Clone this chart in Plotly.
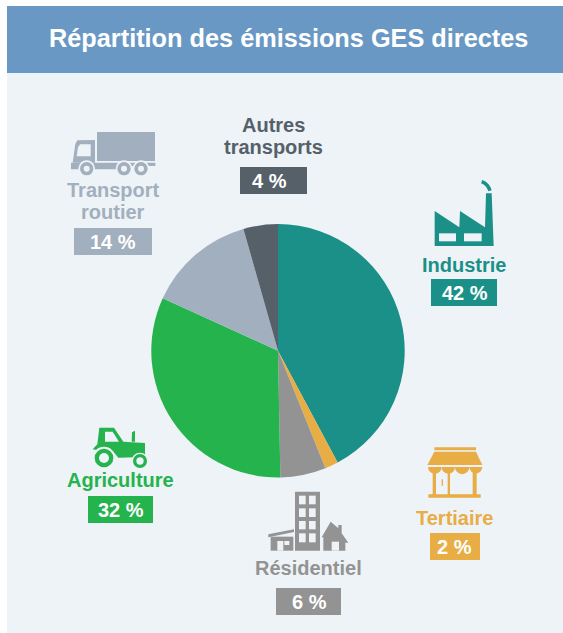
import plotly.graph_objects as go

W, H = 563, 633
title = "Répartition des émissions GES directes"
categories = ["Industrie", "Tertiaire", "Résidentiel", "Agriculture", "Transport routier", "Autres transports"]
label_lines = [["Industrie"], ["Tertiaire"], ["Résidentiel"], ["Agriculture"], ["Transport", "routier"], ["Autres", "transports"]]
values = [42.2, 1.7, 5.8, 32.1, 13.8, 4.4]
value_labels = ["42 %", "2 %", "6 %", "32 %", "14 %", "4 %"]
colors = ["#1b9088", "#e8ad45", "#929392", "#25b34d", "#a2afbe", "#556069"]
BG = "#eef3f7"
BAR = "#6a98c4"
FONT = "Liberation Sans, Arial, sans-serif"

# label layout: label centre x, first-line centre y, box x0,y0,x1,y1, value text x, y
label_layout = [
    (464, 265, 431, 279, 497, 306, 465, 292.5),
    (454, 518, 430, 533, 480, 560, 454.7, 546.5),
    (308, 568, 276, 588, 341, 615, 309, 601.5),
    (120, 480, 88, 496, 153, 523, 120.8, 509.5),
    (113, 190, 74, 228, 152, 255, 112.5, 241.5),
    (273, 125, 240, 167, 307, 194, 269.7, 180.5),
]
LINE_GAP = 21.5

fig = go.Figure()
shapes = []


def rect(x0, y0, x1, y1, c, layer="above"):
    shapes.append(dict(type="rect", xref="x", yref="y", x0=x0, y0=y0, x1=x1, y1=y1,
                       fillcolor=c, line_width=0, layer=layer))


def poly(pts, c, ox, oy):
    d = "M" + " L".join(f"{ox + x / 3:.2f},{oy + y / 3:.2f}" for x, y in pts) + " Z"
    shapes.append(dict(type="path", xref="x", yref="y", path=d, fillcolor=c, line_width=0, layer="above"))


def zrect(x0, y0, x1, y1, c, ox, oy):
    rect(ox + x0 / 3, oy + y0 / 3, ox + x1 / 3, oy + y1 / 3, c)


def circ(cx, cy, r, c, ox, oy):
    shapes.append(dict(type="circle", xref="x", yref="y", x0=ox + (cx - r) / 3, y0=oy + (cy - r) / 3,
                       x1=ox + (cx + r) / 3, y1=oy + (cy + r) / 3, fillcolor=c, line_width=0, layer="above"))


# panels
rect(7, 6, W, H, BG, layer="below")
rect(7, 6, W, 73, BAR, layer="below")

# truck
ox, oy, c = 50, 100, colors[4]
zrect(141, 96, 315, 183, c, ox, oy)
poly([(68, 188), (76, 132), (82, 121), (135, 120), (135, 188)], c, ox, oy)
poly([(90, 133), (122, 133), (122, 169), (80, 169), (84, 142)], BG, ox, oy)
zrect(63, 188, 316, 198, c, ox, oy)
zrect(63, 198, 200, 208, c, ox, oy)
for wx in (110, 222, 273):
    circ(wx, 206, 25, BG, ox, oy)
    circ(wx, 206, 20, c, ox, oy)
    circ(wx, 206, 9, BG, ox, oy)

# factory
ox, oy, c = 400, 170, colors[0]
poly([(104, 123), (178, 172), (180, 123), (255, 172), (258, 70), (275, 70), (281, 228), (104, 228)], c, ox, oy)
zrect(117, 190, 168, 214, BG, ox, oy)
zrect(192, 190, 245, 214, BG, ox, oy)
shapes.append(dict(type="path", xref="x", yref="y", layer="above",
                   path=f"M{ox + 245 / 3:.2f},{oy + 35 / 3:.2f} Q{ox + 264 / 3:.2f},{oy + 42 / 3:.2f} {ox + 270 / 3:.2f},{oy + 62 / 3:.2f}",
                   line=dict(color=c, width=3.5)))

# shop
ox, oy, c = 400, 435, colors[1]
zrect(98, 105, 108, 180, c, ox, oy)
zrect(143, 105, 150, 180, c, ox, oy)
zrect(218, 105, 230, 180, c, ox, oy)
for x0, x1 in ((84, 125), (125, 165), (165, 208), (208, 247)):
    circ((x0 + x1) / 2, 96, (x1 - x0) / 2, c, ox, oy)
zrect(78, 90, 250, 96, BG, ox, oy)
zrect(78, 50, 250, 72, BG, ox, oy)
zrect(103, 37, 228, 46, c, ox, oy)
poly([(103, 50), (228, 50), (247, 90), (82, 90)], c, ox, oy)
zrect(85, 178, 242, 188, c, ox, oy)
zrect(125, 133, 129, 152, c, ox, oy)

# tractor
ox, oy, c = 50, 415, colors[3]
poly([(148, 38), (192, 38), (220, 80), (285, 84), (285, 126), (205, 128), (190, 110), (140, 105), (128, 103),
      (142, 88)], c, ox, oy)
poly([(165, 50), (188, 50), (207, 80), (165, 80)], BG, ox, oy)
poly([(245, 80), (246, 52), (255, 47), (255, 80)], c, ox, oy)
circ(162, 129, 34, BG, ox, oy)
circ(162, 129, 28, c, ox, oy)
circ(162, 129, 15, BG, ox, oy)
circ(270, 138, 25, BG, ox, oy)
circ(270, 138, 21, c, ox, oy)
circ(270, 138, 11, BG, ox, oy)

# buildings
ox, oy, c = 240, 480, colors[2]
zrect(165, 35, 240, 212, c, ox, oy)
for y0, y1 in ((47, 73), (85, 111), (123, 148), (160, 187)):
    zrect(177, y0, 197, y1, BG, ox, oy)
    zrect(207, y0, 227, y1, BG, ox, oy)
poly([(85, 163), (162, 148), (162, 156), (85, 172)], c, ox, oy)
zrect(92, 170, 160, 212, c, ox, oy)
zrect(112, 183, 130, 212, BG, ox, oy)
zrect(133, 183, 148, 195, BG, ox, oy)
poly([(245, 172), (272, 125), (295, 145), (295, 135), (305, 135), (305, 160), (325, 188), (316, 188), (316, 212),
      (250, 212), (250, 172)], c, ox, oy)
zrect(275, 185, 297, 212, BG, ox, oy)

# labels and value boxes
annotations = [dict(x=288, y=38, text=f"<b>{title}</b>", showarrow=False, xref="x", yref="y",
                    font=dict(family=FONT, size=25.3, color="white"))]
for lines, vl, col, lay in zip(label_lines, value_labels, colors, label_layout):
    lx, ly, bx0, by0, bx1, by1, vx, vy = lay
    rect(bx0, by0, bx1, by1, col)
    for i, line in enumerate(lines):
        annotations.append(dict(x=lx, y=ly + i * LINE_GAP, text=f"<b>{line}</b>", showarrow=False, xref="x", yref="y",
                                font=dict(family=FONT, size=20, color=col)))
    annotations.append(dict(x=vx, y=vy, text=f"<b>{vl}</b>", showarrow=False, xref="x", yref="y",
                            font=dict(family=FONT, size=20, color="white")))

# invisible trace to anchor pixel-space axes
fig.add_trace(go.Scatter(x=[0, W], y=[0, H], mode="markers", marker=dict(opacity=0), showlegend=False, hoverinfo="skip"))

cx, cy, r = 278, 350.8, 126.7
fig.add_trace(go.Pie(labels=categories, values=values, sort=False, direction="clockwise", rotation=0,
                     marker=dict(colors=colors, line=dict(width=0)), textinfo="none", showlegend=False,
                     domain=dict(x=[(cx - r) / W, (cx + r) / W], y=[1 - (cy + r) / H, 1 - (cy - r) / H])))

fig.update_layout(
    width=W, height=H, margin=dict(l=0, r=0, t=0, b=0), paper_bgcolor="white", plot_bgcolor="white",
    showlegend=False, shapes=shapes, annotations=annotations,
    xaxis=dict(range=[0, W], visible=False, fixedrange=True),
    yaxis=dict(range=[H, 0], visible=False, fixedrange=True),
)
fig.write_html("out.html", config=dict(displayModeBar=False),
               post_script="document.body.style.margin='0';document.documentElement.style.overflow='hidden';")
